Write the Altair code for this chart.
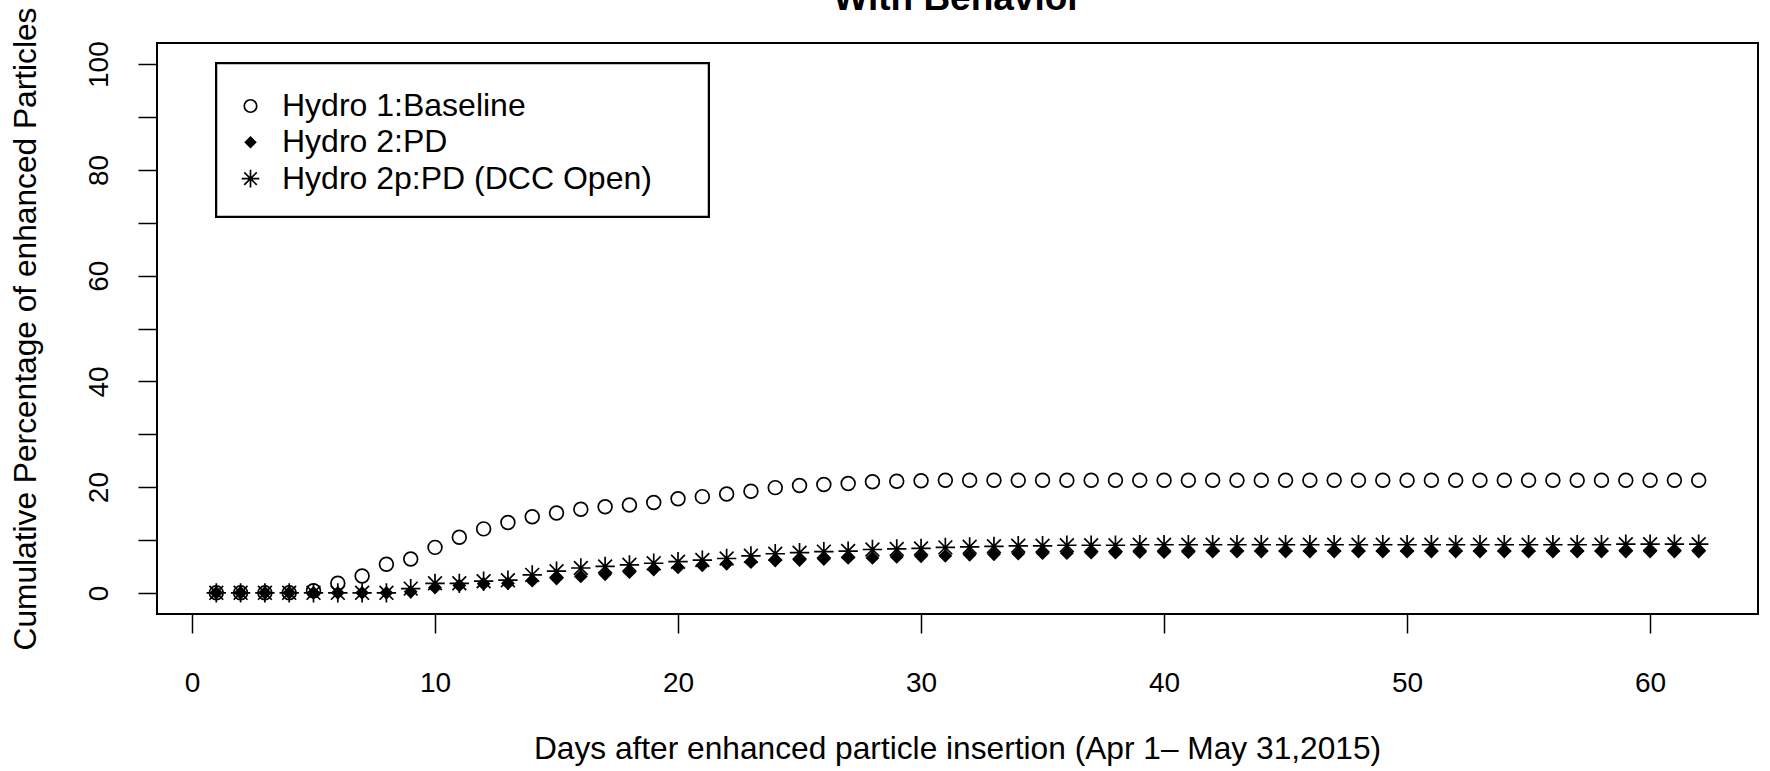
import altair as alt
import pandas as pd

# Day index after insertion (Apr 1 - May 31, 2015)
days = list(range(1, 63))

series_names = ["Hydro 1:Baseline", "Hydro 2:PD", "Hydro 2p:PD (DCC Open)"]
title_text = ["With Behavior"]

# Cumulative percentage of enhanced particles, one value per day
baseline = [
    0, 0, 0, 0, 0.4, 1.8, 3.2, 5.4, 6.4, 8.6,
    10.5, 12.1, 13.3, 14.4, 15.1, 15.8, 16.3, 16.6, 17.1, 17.8,
    18.2, 18.7, 19.2, 19.9, 20.3, 20.5, 20.7, 21.0, 21.1, 21.2,
    21.3, 21.3, 21.3, 21.3, 21.3, 21.3, 21.3, 21.3, 21.3, 21.3,
    21.3, 21.3, 21.3, 21.3, 21.3, 21.3, 21.3, 21.3, 21.3, 21.3,
    21.3, 21.3, 21.3, 21.3, 21.3, 21.3, 21.3, 21.3, 21.3, 21.3,
    21.3, 21.3,
]
pd_values = [
    0, 0, 0, 0, 0, 0, 0, 0, 0.2, 1.0,
    1.4, 1.7, 1.8, 2.3, 2.7, 3.1, 3.5, 3.9, 4.4, 4.8,
    5.2, 5.5, 5.8, 6.1, 6.2, 6.4, 6.6, 6.6, 6.8, 6.9,
    7.0, 7.2, 7.3, 7.4, 7.5, 7.5, 7.6, 7.6, 7.7, 7.7,
    7.7, 7.8, 7.8, 7.8, 7.8, 7.8, 7.8, 7.8, 7.8, 7.8,
    7.8, 7.8, 7.8, 7.8, 7.8, 7.8, 7.8, 7.8, 7.8, 7.8,
    7.8, 7.8,
]
dcc_values = [
    0, 0, 0, 0, 0, 0, 0, 0, 0.8, 1.8,
    1.8, 2.2, 2.4, 3.4, 4.1, 4.7, 5.0, 5.3, 5.6, 5.9,
    6.2, 6.5, 7.0, 7.4, 7.6, 7.8, 7.9, 8.2, 8.3, 8.4,
    8.6, 8.7, 8.8, 8.9, 8.9, 9.0, 9.0, 9.0, 9.1, 9.1,
    9.1, 9.1, 9.1, 9.1, 9.1, 9.1, 9.1, 9.1, 9.1, 9.1,
    9.1, 9.1, 9.1, 9.1, 9.1, 9.1, 9.1, 9.1, 9.2, 9.2,
    9.2, 9.2,
]

frames = []
for name, vals in zip(series_names, [baseline, pd_values, dcc_values]):
    frames.append(pd.DataFrame({"day": days, "pct": vals, "series": name}))
df = pd.concat(frames, ignore_index=True)

# Plotting symbols in unit coordinates: open circle, solid diamond, asterisk
circle_path = "M0.71,0A0.71,0.71 0 1,1 -0.71,0A0.71,0.71 0 1,1 0.71,0Z"
diamond_path = "M0,-0.71L0.71,0L0,0.71L-0.71,0Z"
star_path = ("M-1,0L1,0M0,-1L0,1"
             "M-0.71,-0.71L0.71,0.71M-0.71,0.71L0.71,-0.71")

FONT = "Liberation Sans"
SYMBOL_SIZE = 376

legend = alt.Legend(
    title=None,
    orient="none",
    legendX=52.5,
    legendY=22,
    padding=25,
    rowPadding=4.3,
    symbolSize=310,
    symbolStrokeWidth=1.7,
    labelFont=FONT,
    labelFontSize=32,
    labelColor="black",
    labelOffset=15.5,
    labelLimit=800,
)

dom = series_names

# Frame drawn behind the legend entries
legend_frame = alt.Chart(df).mark_rect(
    fill="white", stroke="black", strokeWidth=1.5
).encode(
    x=alt.value(59.5), x2=alt.value(551.5),
    y=alt.value(20.5), y2=alt.value(173.5),
)

# Main title above the plot box; the page's top edge trims its upper part
title_mark = alt.Chart(pd.DataFrame({"t": title_text})).mark_text(
    font=FONT, fontSize=37, fontWeight="bold", color="black",
    align="center", baseline="alphabetic",
).encode(
    text="t:N",
    x=alt.value(800.5),
    y=alt.value(-33.5),
)

points = alt.Chart(df).mark_point(
    filled=True, size=SYMBOL_SIZE, opacity=1, strokeWidth=1.7
).encode(
    x=alt.X(
        "day:Q",
        scale=alt.Scale(domain=[-1.44, 64.44], nice=False, zero=False),
        axis=alt.Axis(
            values=[0, 10, 20, 30, 40, 50, 60],
            title="Days after enhanced particle insertion (Apr 1\u2013 May 31,2015)",
            titleX=800,
            titleY=134,
            titleBaseline="middle",
            titleAlign="center",
            labelPadding=36,
        ),
    ),
    y=alt.Y(
        "pct:Q",
        scale=alt.Scale(domain=[-4, 104], nice=False, zero=False),
        axis=alt.Axis(
            values=[0, 10, 20, 30, 40, 50, 60, 70, 80, 90, 100],
            labelExpr="datum.value % 20 == 0 ? datum.label : ''",
            labelAngle=270,
            labelAlign="center",
            labelBaseline="alphabetic",
            labelPadding=31,
            title="Cumulative Percentage of enhanced Particles",
            titleAngle=270,
            titleX=-132,
            titleY=285.5,
            titleAlign="center",
            titleBaseline="middle",
        ),
    ),
    shape=alt.Shape("series:N", scale=alt.Scale(domain=dom, range=[circle_path, diamond_path, star_path]), legend=legend),
    fill=alt.Fill("series:N", scale=alt.Scale(domain=dom, range=["transparent", "black", "transparent"]), legend=legend),
    stroke=alt.Stroke("series:N", scale=alt.Scale(domain=dom, range=["black", "transparent", "black"]), legend=legend),
)

chart = alt.layer(legend_frame, title_mark, points).properties(
    width=1601,
    height=571,
    autosize=alt.AutoSizeParams(type="none"),
    padding={"left": 157, "top": 43, "right": 12, "bottom": 157},
    background="white",
).configure_view(
    stroke="black",
    strokeWidth=2,
).configure_axis(
    domain=False,
    grid=False,
    ticks=True,
    tickColor="black",
    tickWidth=1.5,
    tickSize=19,
    labelFont=FONT,
    labelFontSize=28,
    labelColor="black",
    labelOverlap=False,
    labelFlush=False,
    titleFont=FONT,
    titleFontSize=31.7,
    titleFontWeight="normal",
    titleColor="black",
)

chart.save("out.html", embed_options={"renderer": "svg", "actions": False})
